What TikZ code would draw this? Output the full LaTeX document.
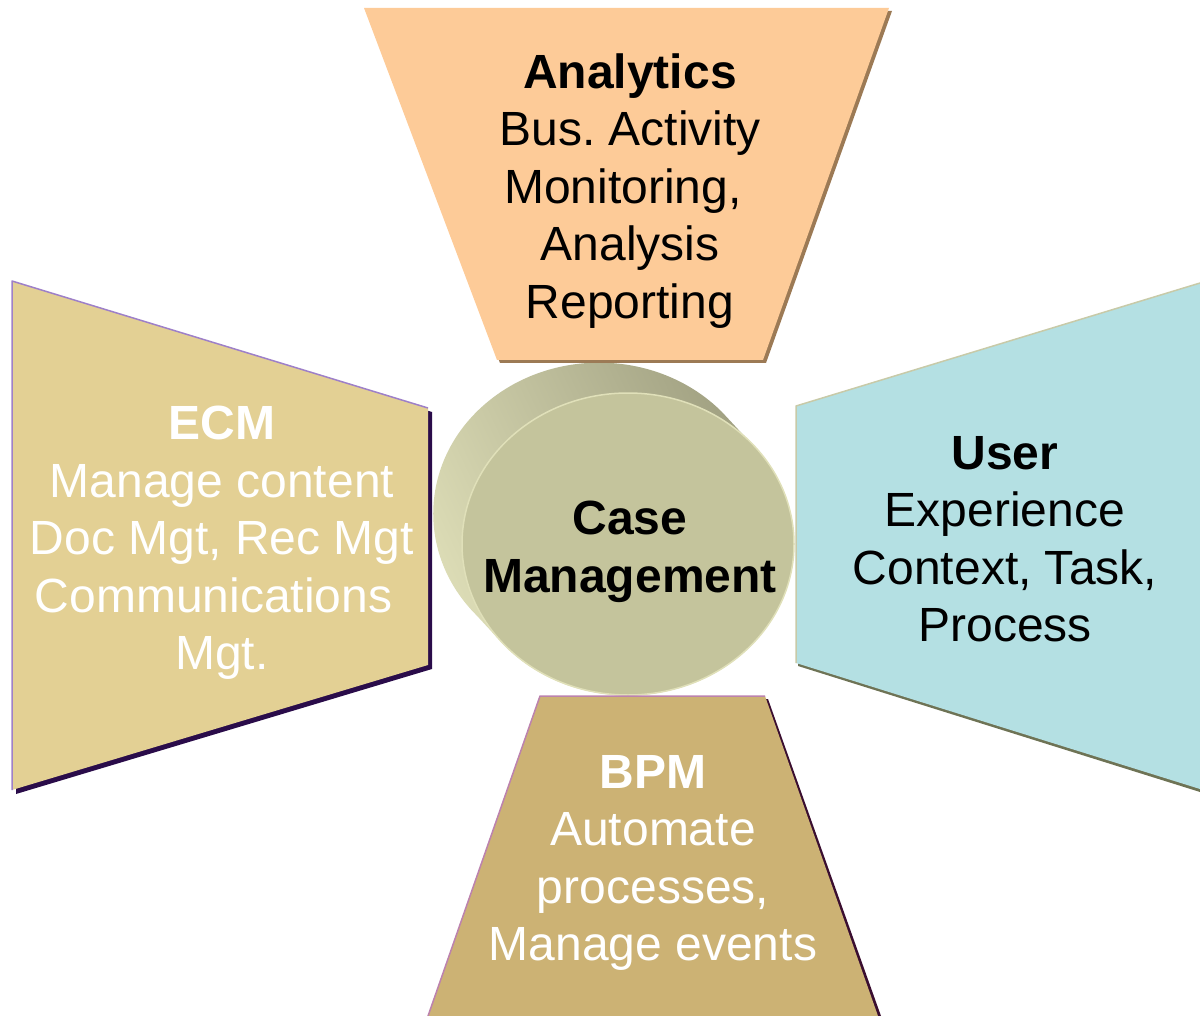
\documentclass[tikz,border=0pt]{standalone}
\usepackage{fontspec}
\setmainfont{Liberation Sans}
\usepackage{tikz}
\frenchspacing

\definecolor{peach}{HTML}{FDCB98}
\definecolor{peachshade}{HTML}{9C7A55}
\definecolor{ecmfill}{HTML}{E3D094}
\definecolor{ecmline}{HTML}{9E80C8}
\definecolor{ecmshade}{HTML}{2A0C4A}
\definecolor{userfill}{HTML}{B4E0E3}
\definecolor{userline}{HTML}{C8CAA8}
\definecolor{usershade}{HTML}{6E7355}
\definecolor{bpmfill}{HTML}{CCB274}
\definecolor{bpmline}{HTML}{BC82AE}
\definecolor{bpmshade}{HTML}{3A0E30}
\definecolor{cmfront}{HTML}{C4C49C}
\definecolor{cmlight}{HTML}{E0E0B9}
\definecolor{cmdark}{HTML}{9A9A7C}

\begin{document}
\begin{tikzpicture}[x=1pt, y=-1pt]
    \tikzset{
        body/.style={font=\fontsize{48}{57.5}\selectfont, align=center, inner sep=0pt},
        darktext/.style={body, text=black},
        lighttext/.style={body, text=white},
        rim/.style={line width=1.5pt, line join=round}
    }
    \useasboundingbox (0,0) rectangle (1200,1016);

    % Case Management cylinder
    \shade[top color=cmdark, bottom color=cmlight, shading angle=-65]
        (722,412) arc[start angle=-42.3, end angle=-222.3, x radius=166, y radius=151]
        -- (505,646) arc[start angle=137.7, end angle=-42.3, x radius=166, y radius=151] -- cycle;
    \fill[cmfront] (628,544) ellipse[x radius=166, y radius=151];
    \draw[cmlight, rim] (628,544) ellipse[x radius=166, y radius=151];

    % Analytics
    \fill[peachshade] (367,11) -- (892,11) -- (766,363) -- (500,363) -- cycle;
    \fill[peach] (364,8) -- (889,8) -- (763,360) -- (497,360) -- cycle;

    % ECM
    \fill[ecmshade] (16,285) -- (432,412) -- (432,669) -- (16,794) -- cycle;
    \fill[ecmfill] (12,281) -- (428,408) -- (428,665) -- (12,790) -- cycle;
    \draw[ecmline, rim] (12,790) -- (12,281) -- (428,408);

    % User
    \fill[usershade] (798,409) -- (1200,286) -- (1200,792) -- (798,666) -- cycle;
    \fill[userfill] (796,406) -- (1200,283) -- (1200,789) -- (796,663) -- cycle;
    \draw[userline, rim] (796,663) -- (796,406) -- (1200,283);

    % BPM
    \fill[bpmshade] (543,699) -- (768,699) -- (881,1016) -- (431,1016) -- cycle;
    \fill[bpmfill] (540,696) -- (765,696) -- (878,1016) -- (428,1016) -- cycle;
    \draw[bpmline, rim] (428,1016) -- (540,696) -- (765,696);

    % texts
    \node[darktext] (anl) at (630,191) {\textbf{Analytics}\\Bus. Activity\\Monitoring,\hbox to 0.3em{}\\ Analysis\\Reporting};
    \node[lighttext] (ecm) at (222,543) {\textbf{ECM}\\Manage content\\Doc Mgt, Rec Mgt\\Communications\hbox to 0.35em{}\\Mgt.};
    \node[darktext] (usr) at (1005,539) {\textbf{User}\\Experience\\Context, Task,\\Process};
    \node[lighttext] (bpm) at (653,863) {\textbf{BPM}\\Automate\\processes,\\Manage events};
    \node[darktext] (cm) at (630,552) {\textbf{Case}\\\textbf{Management}};
\end{tikzpicture}
\end{document}
